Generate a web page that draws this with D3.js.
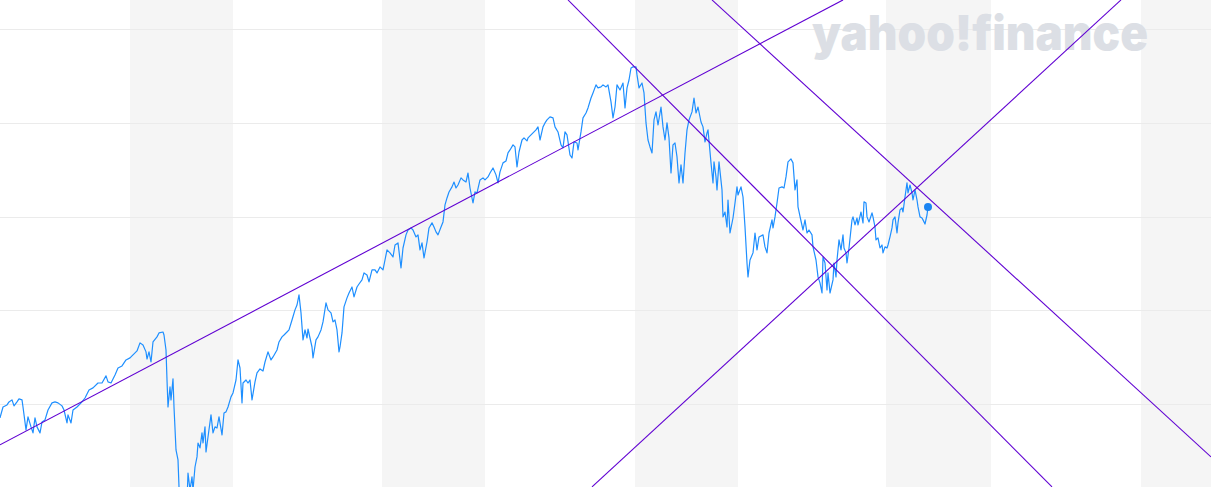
<!DOCTYPE html>
<html>
<head>
<meta charset="utf-8">
<script src="https://cdn.jsdelivr.net/npm/d3@7"></script>
<style>
  html, body { margin: 0; padding: 0; background: #fff; overflow: hidden; }
  svg { display: block; }
</style>
</head>
<body>
<svg id="chart" width="1211" height="487"></svg>
<script>
// ---- Data (S&P 500–like daily closes, indexed by trading day) ----
const tradingDay = [0,3,7,9,12,14,17,19,22,23,26,28,31,33,35,37,40,42,45,48,52,55,58,62,64,67,68,71,73,77,82,85,89,93,98,102,106,108,111,115,118,122,126,130,133,137,140,143,146,147,149,151,153,157,159,163,164,166,167,168,170,171,173,174,176,178,179,180,182,184,186,188,190,192,193,195,197,198,200,202,203,205,206,208,211,213,215,217,219,222,224,226,228,231,233,236,238,240,242,243,246,248,250,252,255,257,260,263,265,268,271,273,277,279,282,284,287,289,292,295,297,299,301,303,305,307,308,312,313,316,318,321,323,326,328,331,333,335,337,339,340,342,344,347,349,352,354,357,359,362,364,367,369,372,375,377,380,383,385,387,390,393,395,398,401,403,406,408,411,413,416,418,420,422,424,427,429,432,434,436,438,441,443,445,447,449,452,454,456,458,461,463,466,468,470,473,475,477,480,483,485,488,490,493,496,498,500,503,506,508,510,513,515,517,519,522,524,527,528,531,533,536,538,540,543,545,547,550,553,555,558,561,563,565,567,570,572,574,577,578,581,583,586,588,591,593,596,598,601,603,606,608,611,613,615,617,620,623,625,627,629,631,633,636,637,639,642,644,646,648,650,652,654,656,658,661,663,665,667,669,671,673,675,677,679,681,683,685,687,689,692,694,696,698,701,703,705,707,708,711,713,714,716,717,719,722,723,725,727,728,730,733,735,737,738,741,743,745,747,748,750,753,755,757,759,763,765,767,769,772,773,775,777,779,782,784,786,788,791,793,795,797,798,801,803,805,807,809,812,813,816,818,820,822,823,825,827,828,830,833,834,836,837,839,841,843,844,846,847,849,852,853,855,857,858,861,863,864,866,867,869,872,873,875,876,878,880,882,883,885,887,888,890,892,893,895,897,898,900,902,903,905,907,908,910,912,913,915,917,918,920,922,923,925,927,928];
const close = [2926,2984,2995,3011,3022,2990,3011,3027,3022,2984,2862,2931,2878,2846,2926,2878,2846,2904,2915,2968,3006,3011,3006,2990,2968,2899,2942,2899,2968,2984,3011,3032,3075,3086,3112,3112,3150,3118,3112,3155,3192,3203,3235,3246,3262,3283,3326,3315,3278,3240,3278,3224,3331,3358,3379,3384,3368,3288,3128,2984,3091,3022,3134,2984,2755,2702,2558,2488,2382,2275,2328,2632,2542,2611,2542,2664,2718,2792,2766,2846,2792,2878,2744,2824,2942,2846,2878,2872,2931,2835,2952,2958,2984,3038,3059,3128,3235,3192,3006,3112,3128,3112,3128,3022,3118,3166,3187,3176,3224,3278,3235,3251,3288,3331,3358,3368,3384,3395,3448,3502,3528,3582,3486,3342,3395,3352,3400,3304,3246,3342,3358,3395,3438,3539,3502,3486,3438,3448,3395,3278,3304,3379,3518,3566,3592,3624,3571,3624,3640,3662,3699,3688,3651,3715,3715,3699,3731,3715,3768,3822,3806,3784,3848,3859,3726,3832,3902,3928,3939,3928,3891,3902,3822,3859,3779,3864,3939,3966,3944,3918,3902,3944,3971,4062,4099,4131,4158,4184,4152,4168,4206,4195,4184,4232,4152,4072,4131,4126,4195,4206,4195,4211,4232,4259,4222,4179,4238,4286,4296,4339,4355,4382,4371,4264,4344,4408,4419,4403,4419,4435,4446,4462,4478,4408,4478,4499,4515,4531,4526,4478,4451,4382,4366,4451,4435,4328,4312,4398,4392,4355,4451,4526,4552,4579,4632,4659,4702,4686,4691,4702,4691,4702,4611,4526,4584,4702,4675,4712,4579,4686,4728,4792,4798,4798,4755,4686,4712,4659,4499,4408,4371,4339,4515,4558,4488,4584,4478,4408,4499,4419,4232,4382,4392,4318,4179,4275,4179,4339,4462,4515,4558,4632,4552,4584,4504,4478,4398,4446,4462,4286,4179,4291,4211,4142,4291,4142,3998,4024,3944,4088,3912,3992,4072,4158,4115,4158,4104,3944,3752,3678,3768,3806,3912,3822,3891,3902,3838,3806,3912,3982,3939,3998,4072,4152,4158,4152,4211,4291,4307,4286,4142,4195,4051,3976,3928,3982,3912,3928,3902,3838,3768,3678,3646,3592,3784,3752,3608,3699,3592,3662,3752,3678,3768,3875,3822,3902,3832,3806,3752,3832,3982,3998,3955,3992,3955,4024,3966,4078,4072,3998,3971,4019,3998,3944,3875,3886,3832,3848,3806,3838,3832,3848,3891,3939,3982,3998,3912,3966,4035,4046,4024,4104,4179,4126,4168,4126,4088,4142,4088,4051,3998,3992,3982,3960,4008,4051];

// Gridline values
const gridValues = [3000, 3500, 4000, 4500, 5000];

// Shaded period bands (trading-day start / end)
const bandStart = [130, 382, 635, 886, 1141];
const bandEnd   = [233, 485, 738, 991, 1244];

// Drawn trend lines: [startDay, startValue, endDay, endValue]
const trendStartDay   = [0,    568,  712,  592];
const trendStartValue = [2782, 5155, 5155, 2558];
const trendEndDay     = [843,  1052, 1211, 1121];
const trendEndValue   = [5155, 2558, 2718, 5155];

const watermark = "yahoo!finance";

// ---- Chart ----
const W = 1211, H = 487;
const svg = d3.select("#chart");

const x = d3.scaleLinear().domain([0, 1211]).range([0, W]);
const y = d3.scaleLinear().domain([3000, 5000]).range([404, 29]);

svg.append("defs").append("clipPath").attr("id", "clip")
  .append("rect").attr("width", W).attr("height", H);

const g = svg.append("g").attr("clip-path", "url(#clip)");

// bands
g.selectAll("rect.band")
  .data(bandStart.map((s, i) => [s, bandEnd[i]]))
  .join("rect")
  .attr("class", "band")
  .attr("x", d => x(d[0]))
  .attr("y", 0)
  .attr("width", d => x(d[1]) - x(d[0]))
  .attr("height", H)
  .attr("fill", "#f5f5f5");

// gridlines via axis
const grid = g.append("g")
  .call(d3.axisLeft(y).tickValues(gridValues).tickSize(-W).tickFormat(""));
grid.select(".domain").remove();
grid.selectAll(".tick line").attr("stroke", "#ebebeb").attr("stroke-width", 1)
  .attr("shape-rendering", "crispEdges");

// watermark
g.append("text")
  .attr("x", 812)
  .attr("y", 50)
  .attr("textLength", 336)
  .attr("lengthAdjust", "spacingAndGlyphs")
  .attr("font-family", "Inter, 'Open Sans', sans-serif")
  .attr("font-weight", 900)
  .attr("font-size", 48)
  .attr("fill", "#dcdfe5")
  .text(watermark);

// price line
const pts = tradingDay.map((d, i) => [d, close[i]]);
g.append("path")
  .datum(pts)
  .attr("fill", "none")
  .attr("stroke", "#1e8fff")
  .attr("stroke-width", 1.2)
  .attr("stroke-linejoin", "round")
  .attr("d", d3.line().x(d => x(d[0])).y(d => y(d[1])));

// trend lines
g.selectAll("line.trend")
  .data(trendStartDay.map((s, i) => ({x1: s, y1: trendStartValue[i], x2: trendEndDay[i], y2: trendEndValue[i]})))
  .join("line")
  .attr("class", "trend")
  .attr("x1", d => x(d.x1)).attr("y1", d => y(d.y1))
  .attr("x2", d => x(d.x2)).attr("y2", d => y(d.y2))
  .attr("stroke", "#6001d2")
  .attr("stroke-width", 1.1);

// last point marker
const last = pts[pts.length - 1];
g.append("circle")
  .attr("cx", x(last[0]))
  .attr("cy", y(last[1]))
  .attr("r", 4)
  .attr("fill", "#1a84f2");
</script>
</body>
</html>
